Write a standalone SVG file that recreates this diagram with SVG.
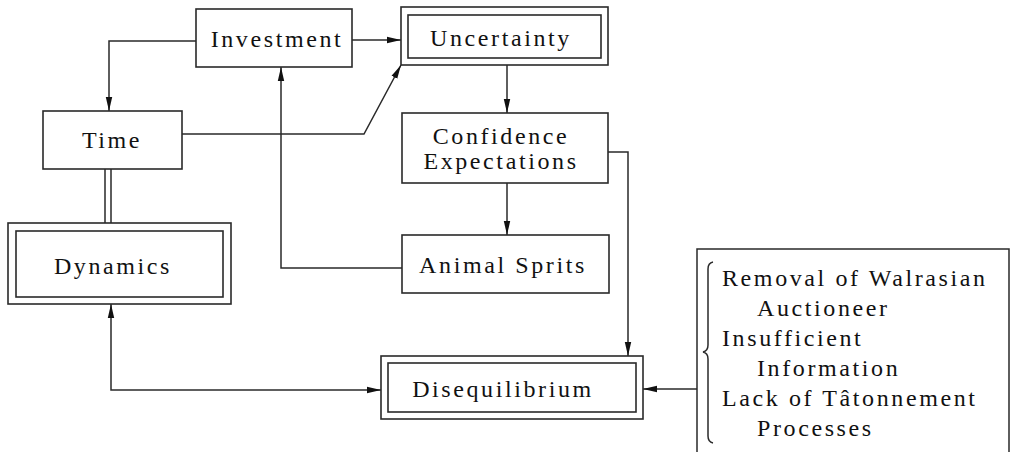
<svg xmlns="http://www.w3.org/2000/svg" width="1011" height="452" viewBox="0 0 1011 452">
<style>
.box{fill:#fff;stroke:#2a2a2a;stroke-width:1.6}
.ln{fill:none;stroke:#2a2a2a;stroke-width:1.5}
.t{font-family:"Liberation Serif","Times New Roman",serif;font-size:24px;letter-spacing:2.6px;fill:#111}
.c{text-anchor:middle}
</style>
<defs>
<marker id="ah" markerUnits="userSpaceOnUse" markerWidth="16" markerHeight="10" refX="14" refY="4" orient="auto-start-reverse">
<path d="M0,0.8 L14,4 L0,7.2 z" fill="#111"/>
</marker>
</defs>
<rect width="1011" height="452" fill="#fff"/>
<g id="connectors">
<path class="ln" d="M196,41 H109 V111" marker-end="url(#ah)"/>
<path class="ln" d="M352,40 H401" marker-end="url(#ah)"/>
<path class="ln" d="M182,134 H364 L401,65" marker-end="url(#ah)"/>
<path class="ln" d="M507,65 V113" marker-end="url(#ah)"/>
<path class="ln" d="M507,183 V235" marker-end="url(#ah)"/>
<path class="ln" d="M402,268 H281 V67" marker-end="url(#ah)"/>
<path class="ln" d="M608,152 H628 V356" marker-end="url(#ah)"/>
<path class="ln" d="M105,169 V223 M111,169 V223"/>
<path class="ln" d="M111,304 V390 H381" marker-start="url(#ah)" marker-end="url(#ah)"/>
<path class="ln" d="M697,389 H643" marker-end="url(#ah)"/>
</g>
<g id="investment">
<rect class="box" x="196" y="9" width="156" height="58"/>
<text class="t c" x="277" y="47">Investment</text>
</g>
<g id="uncertainty">
<rect class="box" x="401" y="7" width="207" height="58"/>
<rect class="box" x="408" y="15" width="193" height="43"/>
<text class="t c" x="501" y="46">Uncertainty</text>
</g>
<g id="time">
<rect class="box" x="43" y="111" width="139" height="58"/>
<text class="t c" x="112" y="148">Time</text>
</g>
<g id="confidence">
<rect class="box" x="402" y="113" width="206" height="70"/>
<text class="t c" x="501" y="144">Confidence</text>
<text class="t c" x="501" y="169">Expectations</text>
</g>
<g id="dynamics">
<rect class="box" x="8" y="223" width="223" height="81"/>
<rect class="box" x="16" y="231" width="207" height="66"/>
<text class="t c" x="113" y="274">Dynamics</text>
</g>
<g id="animal">
<rect class="box" x="402" y="235" width="207" height="58"/>
<text class="t c" x="503" y="273">Animal Sprits</text>
</g>
<g id="disequilibrium">
<rect class="box" x="381" y="356" width="262" height="63"/>
<rect class="box" x="388" y="363" width="248" height="49"/>
<text class="t c" x="503" y="397">Disequilibrium</text>
</g>
<g id="causes">
<path class="ln" d="M697,452 V249 H1009 V452"/>
<path class="ln" d="M713,262 Q708,263 708,269 V345 Q708,351 703,352 Q708,353 708,359 V436 Q708,442 713,443"/>
<text class="t" x="722" y="286">Removal of Walrasian</text>
<text class="t" x="757" y="316">Auctioneer</text>
<text class="t" x="722" y="346">Insufficient</text>
<text class="t" x="757" y="376">Information</text>
<text class="t" x="722" y="406">Lack of Tâtonnement</text>
<text class="t" x="757" y="436">Processes</text>
</g>
</svg>
